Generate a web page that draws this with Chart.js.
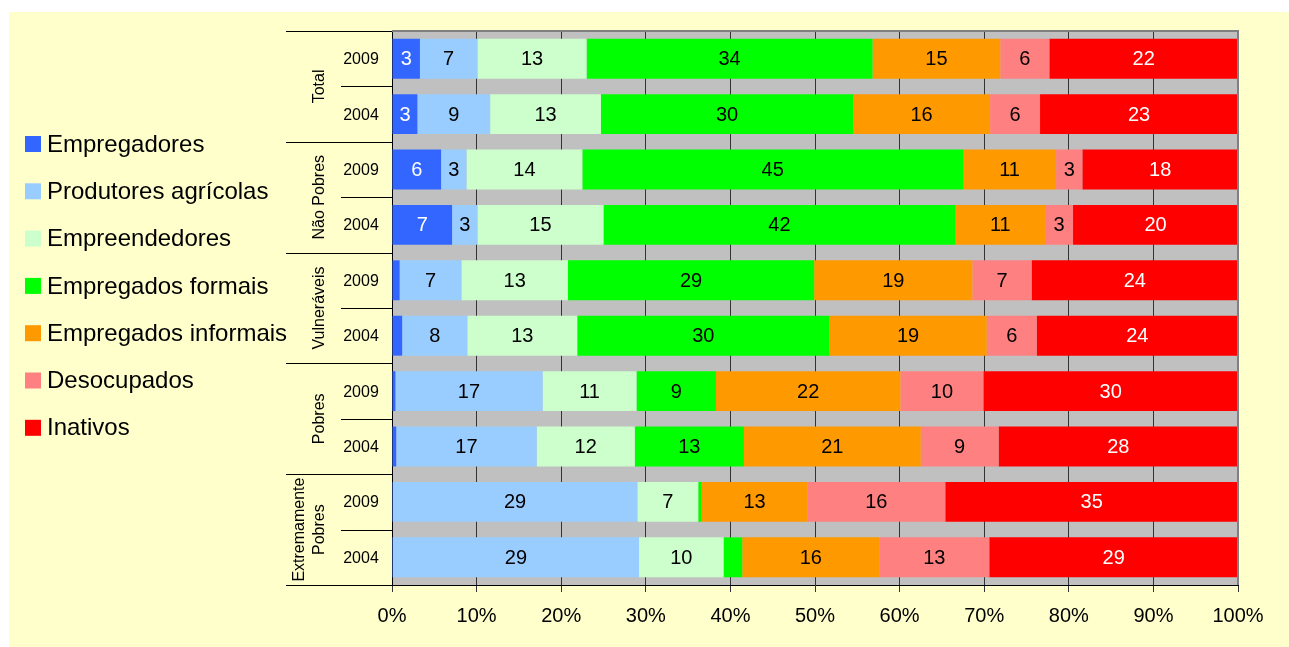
<!DOCTYPE html>
<html>
<head>
<meta charset="utf-8">
<script src="https://cdn.jsdelivr.net/npm/chart.js@4/dist/chart.umd.min.js"></script>
<style>
  html, body { margin: 0; padding: 0; background: #ffffff; }
  #wrap { position: relative; width: 1289px; height: 647px; }
</style>
</head>
<body>
<div id="wrap"><canvas id="chart" width="1289" height="647"></canvas></div>
<script>
// Categories (two levels: group + year)
const groups = ['Total', 'Não Pobres', 'Vulneráveis', 'Pobres', 'Extremamente Pobres'];
const years = ['2009', '2004', '2009', '2004', '2009', '2004', '2009', '2004', '2009', '2004'];

// Series names and colours
const seriesNames = ['Empregadores', 'Produtores agrícolas', 'Empreendedores', 'Empregados formais',
                     'Empregados informais', 'Desocupados', 'Inativos'];
const seriesColors = ['#3366FF', '#99CCFF', '#CCFFCC', '#00FF00', '#FF9900', '#FF8080', '#FF0000'];
const labelColors = ['#ffffff', '#000000', '#000000', '#000000', '#000000', '#000000', '#ffffff'];

// Values in %
const empregadores   = [3.3, 3.0, 5.8, 7.1, 0.9, 1.2, 0.4, 0.5, 0.1, 0.1];
const produtores     = [6.8, 8.6, 3.0, 3.0, 7.3, 7.7, 17.4, 16.6, 28.9, 29.1];
const empreendedores = [12.9, 13.1, 13.7, 14.9, 12.6, 13.0, 11.1, 11.6, 7.2, 10.0];
const formais        = [33.8, 29.8, 45.0, 41.6, 29.1, 29.8, 9.4, 12.9, 0.4, 2.2];
const informais      = [15.1, 16.2, 11.0, 10.6, 18.7, 18.6, 21.8, 20.9, 12.5, 16.2];
const desocupados    = [5.8, 5.9, 3.1, 3.3, 7.0, 5.9, 9.8, 9.2, 16.3, 13.0];
const inativos       = [22.3, 23.4, 18.4, 19.5, 24.4, 23.8, 30.1, 28.3, 34.6, 29.4];

const allSeries = [empregadores, produtores, empreendedores, formais, informais, desocupados, inativos];

const FONT = 'Liberation Sans, Arial, sans-serif';
Chart.defaults.font.family = FONT;

// Background, plot fill and frame
const backgroundPlugin = {
    id: 'background',
    beforeDraw(chart) {
        const ctx = chart.ctx;
        const a = chart.chartArea;
        ctx.save();
        ctx.fillStyle = '#FFFFCC';
        ctx.fillRect(9, 12, chart.width - 9, chart.height - 12);
        ctx.fillStyle = '#C0C0C0';
        ctx.fillRect(a.left, a.top, a.right - a.left, a.bottom - a.top);
        ctx.restore();
    },
    afterDraw(chart) {
        const ctx = chart.ctx;
        const a = chart.chartArea;
        ctx.save();
        ctx.strokeStyle = '#808080';
        ctx.lineWidth = 2;
        ctx.beginPath();
        ctx.moveTo(a.left, a.top);
        ctx.lineTo(a.right, a.top);
        ctx.lineTo(a.right, a.bottom);
        ctx.stroke();
        ctx.restore();
    }
};

// Numbers inside bar segments
const valueLabels = {
    id: 'valueLabels',
    afterDatasetsDraw(chart) {
        const ctx = chart.ctx;
        ctx.save();
        ctx.font = '20px ' + FONT;
        ctx.textAlign = 'center';
        ctx.textBaseline = 'middle';
        chart.data.datasets.forEach((ds, i) => {
            const meta = chart.getDatasetMeta(i);
            meta.data.forEach((bar, j) => {
                const v = ds.data[j];
                if (v < 2.5) return;
                const p = bar.getProps(['x', 'y', 'base'], true);
                ctx.fillStyle = labelColors[i];
                ctx.fillText(String(Math.round(v)), (p.x + p.base) / 2, p.y + 1);
            });
        });
        ctx.restore();
    }
};

// Two-level category axis on the left + legend
const sideLabels = {
    id: 'sideLabels',
    afterDraw(chart) {
        const ctx = chart.ctx;
        const a = chart.chartArea;
        const y = chart.scales.y;
        const n = years.length;
        const pos = years.map((_, i) => y.getPixelForValue(i));
        const edge = i => (i === 0 ? a.top : i === n ? a.bottom : (pos[i - 1] + pos[i]) / 2);

        ctx.save();
        ctx.fillStyle = '#000000';
        ctx.font = '16px ' + FONT;
        ctx.textAlign = 'center';
        ctx.textBaseline = 'middle';
        years.forEach((yr, i) => ctx.fillText(yr, 361, pos[i] + 1));

        // separators
        ctx.strokeStyle = '#000000';
        ctx.lineWidth = 1;
        for (let i = 0; i <= n; i++) {
            const yy = Math.round(edge(i)) + 0.5;
            ctx.beginPath();
            ctx.moveTo(i % 2 === 0 ? 286 : 341, yy);
            ctx.lineTo(a.left, yy);
            ctx.stroke();
        }

        // rotated group names
        groups.forEach((g, k) => {
            const cy = (edge(2 * k) + edge(2 * k + 2)) / 2;
            const lines = g === 'Extremamente Pobres' ? ['Extremamente', 'Pobres'] : [g];
            ctx.save();
            ctx.translate(lines.length === 2 ? 310 : 320, cy);
            ctx.rotate(-Math.PI / 2);
            lines.forEach((t, m) => {
                const off = (m - (lines.length - 1) / 2) * 20;
                ctx.fillText(t, 0, off);
            });
            ctx.restore();
        });

        // legend
        ctx.font = '24px ' + FONT;
        ctx.textAlign = 'left';
        chart.data.datasets.forEach((ds, i) => {
            const cy = 144 + i * 47.3;
            ctx.fillStyle = ds.backgroundColor;
            ctx.fillRect(25, cy - 8, 16, 16);
            ctx.fillStyle = '#000000';
            ctx.fillText(ds.label, 47, cy + 1);
        });
        ctx.restore();
    }
};

const datasets = seriesNames.map((name, i) => ({
    label: name,
    data: allSeries[i],
    backgroundColor: seriesColors[i],
    borderWidth: 0,
    barPercentage: 0.72,
    categoryPercentage: 1.0
}));

new Chart(document.getElementById('chart').getContext('2d'), {
    type: 'bar',
    data: { labels: years, datasets: datasets },
    plugins: [backgroundPlugin, valueLabels, sideLabels],
    options: {
        indexAxis: 'y',
        responsive: false,
        animation: false,
        layout: { padding: { left: 392, right: 51, top: 31, bottom: 0 } },
        plugins: { legend: { display: false }, tooltip: { enabled: false } },
        scales: {
            x: {
                stacked: true,
                min: 0,
                max: 100,
                afterFit(scale) { scale.height = 62; },
                ticks: {
                    stepSize: 10,
                    color: '#000000',
                    padding: 12,
                    font: { size: 20 },
                    callback: v => v + '%'
                },
                grid: { color: '#333333', lineWidth: 1, tickLength: 7 },
                border: { color: '#000000', width: 1 }
            },
            y: {
                stacked: true,
                afterFit(scale) { scale.width = 0; },
                ticks: { display: false },
                grid: { display: false, drawTicks: false },
                border: { color: '#000000', width: 1 }
            }
        }
    }
});
</script>
</body>
</html>
